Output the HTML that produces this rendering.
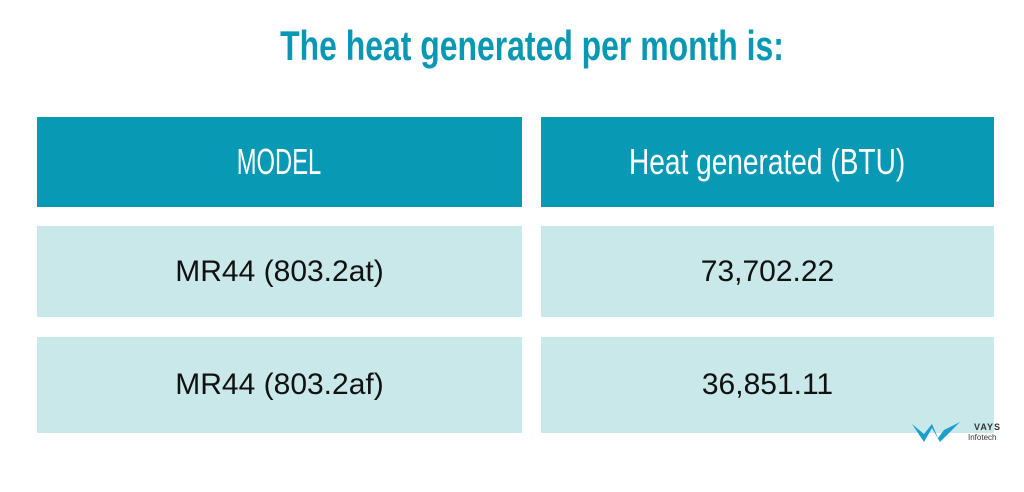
<!DOCTYPE html>
<html><head><meta charset="utf-8"><style>
body{margin:0;width:1024px;height:492px;background:#fff;position:relative;overflow:hidden;font-family:"Liberation Sans",sans-serif}
.t{position:absolute;left:20px;width:1024px;top:22px;text-align:center;color:#0898b3;font-weight:bold;font-size:42px;line-height:48px;transform:scaleX(0.76)}
.c{position:absolute;display:flex;align-items:center;justify-content:center}
.h{background:#0899b5;color:#fff;font-size:36px}
.h span{display:inline-block;transform:scaleX(0.78)}
.b{background:#c9e8ea;color:#111;font-size:30px}
</style></head><body>
<div class="t">The heat generated per month is:</div>
<div class="c h" style="left:37px;top:117px;width:485px;height:90px"><span style="transform:scaleX(0.66)">MODEL</span></div>
<div class="c h" style="left:541px;top:117px;width:453px;height:90px"><span>Heat generated (BTU)</span></div>
<div class="c b" style="left:37px;top:226px;width:485px;height:91px">MR44 (803.2at)</div>
<div class="c b" style="left:541px;top:226px;width:453px;height:91px">73,702.22</div>
<div class="c b" style="left:37px;top:337px;width:485px;height:96px">MR44 (803.2af)</div>
<div class="c b" style="left:541px;top:337px;width:453px;height:96px">36,851.11</div>
<div style="position:absolute;left:910px;top:418px;width:110px;height:36px">
<svg width="60" height="30" viewBox="0 0 60 30"><path d="M2 6 L14 24 L22 10 L30 24 L50 4 L34 12 L28 20 L22 6 L14 16 Z" fill="#1a9fd0"/></svg>
<div style="position:absolute;left:64px;top:4px;font-size:9px;font-weight:bold;color:#333;letter-spacing:1px">VAYS</div>
<div style="position:absolute;left:58px;top:15px;font-size:8px;color:#333">Infotech</div>
</div>
</body></html>
